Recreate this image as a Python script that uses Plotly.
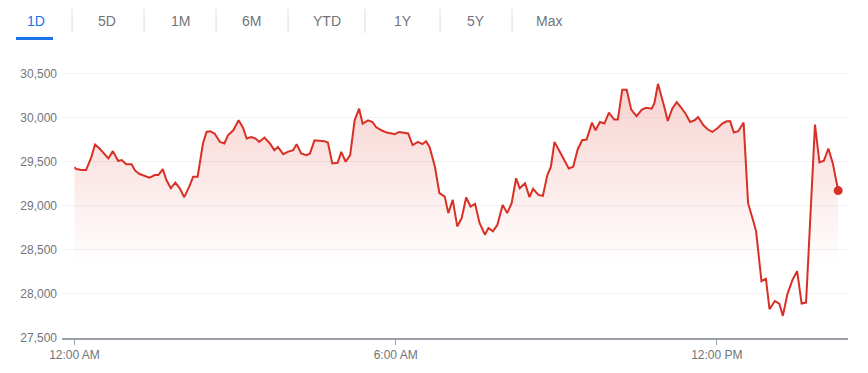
import pandas as pd
import plotly.graph_objects as go

# Minutes after midnight for each sample
minutes = [0, 2, 8, 13, 19, 23, 28, 34, 38, 43, 49, 53, 58, 64, 68, 73, 78, 84, 90, 94,
           99, 103, 108, 113, 118, 123, 129, 133, 138, 144, 148, 152, 157, 163, 168, 172, 178, 184, 189, 193,
           198, 203, 207, 213, 219, 224, 228, 234, 239, 245, 249, 254, 260, 264, 269, 275, 280, 284, 289, 295,
           299, 304, 309, 314, 319, 323, 329, 334, 338, 344, 350, 359, 364, 374, 379, 385, 390, 394, 398, 404,
           409, 415, 419, 424, 429, 434, 439, 444, 449, 454, 460, 464, 469, 474, 480, 485, 490, 495, 499, 505,
           510, 514, 520, 525, 530, 534, 538, 544, 548, 554, 559, 564, 569, 574, 580, 584, 589, 594, 599, 605,
           609, 614, 619, 624, 630, 636, 641, 647, 650, 654, 660, 665, 670, 675, 680, 685, 690, 695, 699, 705,
           710, 715, 721, 726, 731, 735, 739, 744, 750, 755, 761, 764, 770, 775, 779, 785, 790, 794, 799, 805,
           810, 815, 820, 830, 835, 840, 845, 850, 856]

prices = [29438, 29418, 29407, 29407, 29557, 29697, 29652, 29577, 29539, 29622, 29509, 29520, 29472, 29472, 29400, 29362, 29343, 29320, 29351, 29351,
          29418, 29294, 29200, 29264, 29200, 29099, 29227, 29332, 29332, 29709, 29840, 29848, 29822, 29727, 29709, 29802, 29859, 29972, 29885, 29765,
          29783, 29765, 29727, 29776, 29709, 29633, 29670, 29588, 29614, 29633, 29701, 29596, 29577, 29596, 29746, 29738, 29735, 29720, 29483, 29490,
          29614, 29501, 29577, 29972, 30104, 29935, 29972, 29953, 29896, 29859, 29833, 29814, 29840, 29822, 29690, 29727, 29701, 29735, 29670, 29444,
          29144, 29106, 28918, 29069, 28767, 28862, 29095, 28993, 29023, 28806, 28673, 28749, 28711, 28786, 29012, 28918, 29031, 29314, 29201, 29257,
          29099, 29193, 29125, 29114, 29351, 29445, 29727, 29614, 29539, 29426, 29445, 29641, 29746, 29754, 29946, 29859, 29953, 29935, 30059, 29980,
          29980, 30318, 30318, 30093, 30020, 30093, 30115, 30104, 30167, 30386, 30167, 29964, 30104, 30178, 30115, 30047, 29953, 29972, 30009, 29915,
          29867, 29840, 29885, 29935, 29960, 29960, 29833, 29848, 29946, 29031, 28824, 28711, 28146, 28173, 27827, 27920, 27891, 27751, 27996, 28165,
          28259, 27891, 27902, 29923, 29494, 29512, 29652, 29483, 29174]

tabs = ["1D", "5D", "1M", "6M", "YTD", "1Y", "5Y", "Max"]
x_tick_labels = ["12:00 AM", "6:00 AM", "12:00 PM"]
x_tick_hours = [0, 6, 12]
y_ticks = [27500, 28000, 28500, 29000, 29500, 30000, 30500]

base = pd.Timestamp("2020-01-01")
times = [base + pd.Timedelta(minutes=m) for m in minutes]

RED = "#d93025"
GREY = "#70757a"

fig = go.Figure()
fig.add_trace(go.Scatter(
    x=times, y=prices, mode="lines",
    line=dict(color=RED, width=2),
    fill="tozeroy",
    fillgradient=dict(type="vertical", start=28300, stop=30400,
                      colorscale=[[0, "rgba(217,48,37,0.0)"], [1, "rgba(217,48,37,0.22)"]]),
    hoverinfo="skip", showlegend=False))
fig.add_trace(go.Scatter(
    x=[times[-1]], y=[prices[-1]], mode="markers",
    marker=dict(color=RED, size=9), hoverinfo="skip", showlegend=False))

# plot area in pixels
L, R, T, B = 62, 848, 65, 338
W, H = 868, 373


def px(xp):
    return (xp - L) / (R - L)


def py(yp):
    return (B - yp) / (B - T)


tab_x = [36, 107, 180, 251, 327, 403, 476, 549]
for i, (t, xc) in enumerate(zip(tabs, tab_x)):
    fig.add_annotation(x=px(xc), y=py(21), xref="paper", yref="paper", text=t,
                       showarrow=False, xanchor="center", yanchor="middle",
                       font=dict(size=14, color="#1a73e8" if i == 0 else GREY))
for sx in [72, 144, 216, 288, 365, 440, 512]:
    fig.add_shape(type="line", xref="paper", yref="paper", x0=px(sx), x1=px(sx),
                  y0=py(9), y1=py(33), line=dict(color="#dadce0", width=1))
fig.add_shape(type="line", xref="paper", yref="paper", x0=px(16), x1=px(53),
              y0=py(38.5), y1=py(38.5), line=dict(color="#1a73e8", width=3))

fig.update_layout(
    width=W, height=H,
    margin=dict(l=L, r=W - R, t=T, b=H - B),
    paper_bgcolor="white", plot_bgcolor="white",
    font=dict(family="Liberation Sans, Arial, sans-serif", color=GREY, size=12),
    xaxis=dict(
        range=[base - pd.Timedelta(minutes=14), base + pd.Timedelta(minutes=867)],
        tickvals=[base + pd.Timedelta(hours=h) for h in x_tick_hours],
        ticktext=x_tick_labels,
        showgrid=False, zeroline=False,
        showline=True, linecolor="#9aa0a6", linewidth=2,
        ticks="outside", ticklen=5, tickcolor="#9aa0a6", tickwidth=1,
        tickfont=dict(size=12, color=GREY),
        fixedrange=True,
    ),
    yaxis=dict(
        range=[27500, 30600],
        tickvals=y_ticks, tickformat=",",
        showgrid=True, gridcolor="#f1f3f4", gridwidth=1,
        zeroline=False, showline=False,
        ticks="", ticklabelstandoff=4,
        tickfont=dict(size=12, color=GREY),
        fixedrange=True,
    ),
)

fig.write_html("out.html")
